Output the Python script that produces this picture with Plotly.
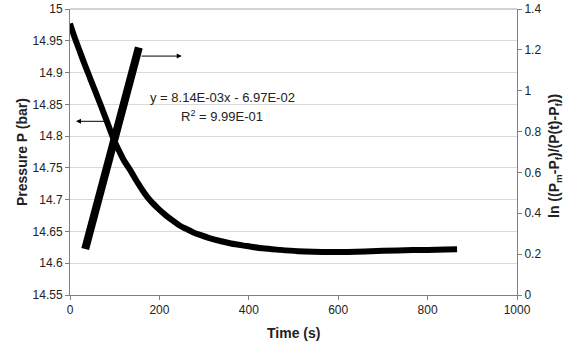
import plotly.graph_objects as go

# Pressure decay curve
time_p = [0, 10, 20, 30, 45, 63, 80, 99, 110, 120, 130, 138, 148, 157, 166, 175, 185,
          195, 205, 215, 230, 246, 260, 276, 291, 310, 336, 360, 396, 430, 470, 510,
          545, 580, 620, 660, 700, 750, 800, 840, 866]
pressure = [14.977, 14.956, 14.937, 14.918, 14.891, 14.859, 14.828, 14.793, 14.7765,
            14.7625, 14.7515, 14.7425, 14.7305, 14.7205, 14.711, 14.7025, 14.6945,
            14.6875, 14.681, 14.675, 14.667, 14.659, 14.654, 14.6485, 14.6445, 14.640,
            14.635, 14.631, 14.627, 14.6235, 14.621, 14.619, 14.618, 14.6175, 14.6178,
            14.6185, 14.6195, 14.6205, 14.621, 14.6215, 14.622]

# ln((Pm-Pf)/(P(t)-Pf)) linear segment
time_ln = [34, 60, 99, 130, 154]
ln_vals = [0.225, 0.44, 0.757, 1.013, 1.212]

# Axis ticks
x_ticks = [0, 200, 400, 600, 800, 1000]
y_ticks = [14.55, 14.6, 14.65, 14.7, 14.75, 14.8, 14.85, 14.9, 14.95, 15]
y_ticktext = ["14.55", "14.6", "14.65", "14.7", "14.75", "14.8", "14.85", "14.9", "14.95", "15"]
y2_ticks = [0, 0.2, 0.4, 0.6, 0.8, 1.0, 1.2, 1.4]
y2_ticktext = ["0", "0.2", "0.4", "0.6", "0.8", "1", "1.2", "1.4"]

eq_text = "y = 8.14E-03x - 6.97E-02"
r2_text = "R<sup>2</sup> = 9.99E-01"

FONT = "Liberation Sans, Arial, sans-serif"
AX = "#808080"
TXT = "#222222"

fig = go.Figure()
fig.add_trace(go.Scatter(x=time_p, y=pressure, mode="lines",
                         line=dict(color="black", width=6, shape="spline", smoothing=1.0),
                         yaxis="y", showlegend=False))
fig.add_trace(go.Scatter(x=time_ln, y=ln_vals, mode="lines",
                         line=dict(color="black", width=8), yaxis="y2",
                         showlegend=False))

fig.update_layout(
    width=570, height=351,
    margin=dict(l=70, r=53, t=9, b=56, autoexpand=False),
    paper_bgcolor="white", plot_bgcolor="white",
    font=dict(family=FONT, size=12, color=TXT),
    showlegend=False,
    xaxis=dict(range=[0, 1000], tickvals=x_ticks, showgrid=False, zeroline=False,
               showline=True, linecolor=AX, linewidth=1, ticks="outside",
               ticklen=4, tickcolor=AX, tickfont=dict(size=12, color=TXT),
               automargin=False),
    yaxis=dict(range=[14.55, 15], tickvals=y_ticks, ticktext=y_ticktext,
               showgrid=True, gridcolor="#d9d9d9", gridwidth=1, zeroline=False,
               showline=True, linecolor=AX, linewidth=1, ticks="outside",
               ticklen=4, tickcolor=AX, tickfont=dict(size=12, color=TXT),
               automargin=False),
    yaxis2=dict(range=[0, 1.4], tickvals=y2_ticks, ticktext=y2_ticktext,
                overlaying="y", side="right", showgrid=False, zeroline=False,
                showline=True, linecolor=AX, linewidth=1, ticks="outside",
                ticklen=4, tickcolor=AX, tickfont=dict(size=12, color=TXT),
                automargin=False),
)

# top border line
fig.add_shape(type="line", xref="paper", yref="paper", x0=0, x1=1, y0=1, y1=1,
              line=dict(color="#a6a6a6", width=1))

# axis titles
fig.add_annotation(text="<b>Time (s)</b>", xref="paper", yref="paper",
                   x=(293 - 70) / 447, y=(295 - 333) / 286, showarrow=False,
                   font=dict(size=14, color=TXT), xanchor="center", yanchor="middle")
fig.add_annotation(text="<b>Pressure P (bar)</b>", xref="paper", yref="paper",
                   x=(22 - 70) / 447, y=(295 - 152) / 286, showarrow=False,
                   textangle=-90, font=dict(size=14, color=TXT),
                   xanchor="center", yanchor="middle")
fig.add_annotation(text="<b>ln ((P<sub>m</sub>-P<sub>f</sub>)/(P(t)-P<sub>f</sub>))</b>",
                   xref="paper", yref="paper",
                   x=(555 - 70) / 447, y=(295 - 156) / 286, showarrow=False,
                   textangle=-90, font=dict(size=14, color=TXT),
                   xanchor="center", yanchor="middle")

# equation
fig.add_annotation(text=eq_text, x=174.7, y=14.861, xref="x", yref="y",
                   showarrow=False, xanchor="left", yanchor="middle",
                   font=dict(size=13, color=TXT))
fig.add_annotation(text=r2_text, x=244, y=14.832, xref="x", yref="y",
                   showarrow=False, xanchor="left", yanchor="middle",
                   font=dict(size=13, color=TXT))

# arrows
fig.add_annotation(x=13.4, y=14.8233, ax=80.6, ay=14.8233, xref="x", yref="y",
                   axref="x", ayref="y", text="", showarrow=True,
                   arrowhead=2, arrowsize=1, arrowwidth=1, arrowcolor="black")
fig.add_annotation(x=250, y=14.9259, ax=156.8, ay=14.9259, xref="x", yref="y",
                   axref="x", ayref="y", text="", showarrow=True,
                   arrowhead=2, arrowsize=1, arrowwidth=1, arrowcolor="black")

fig.write_html("out.html")
